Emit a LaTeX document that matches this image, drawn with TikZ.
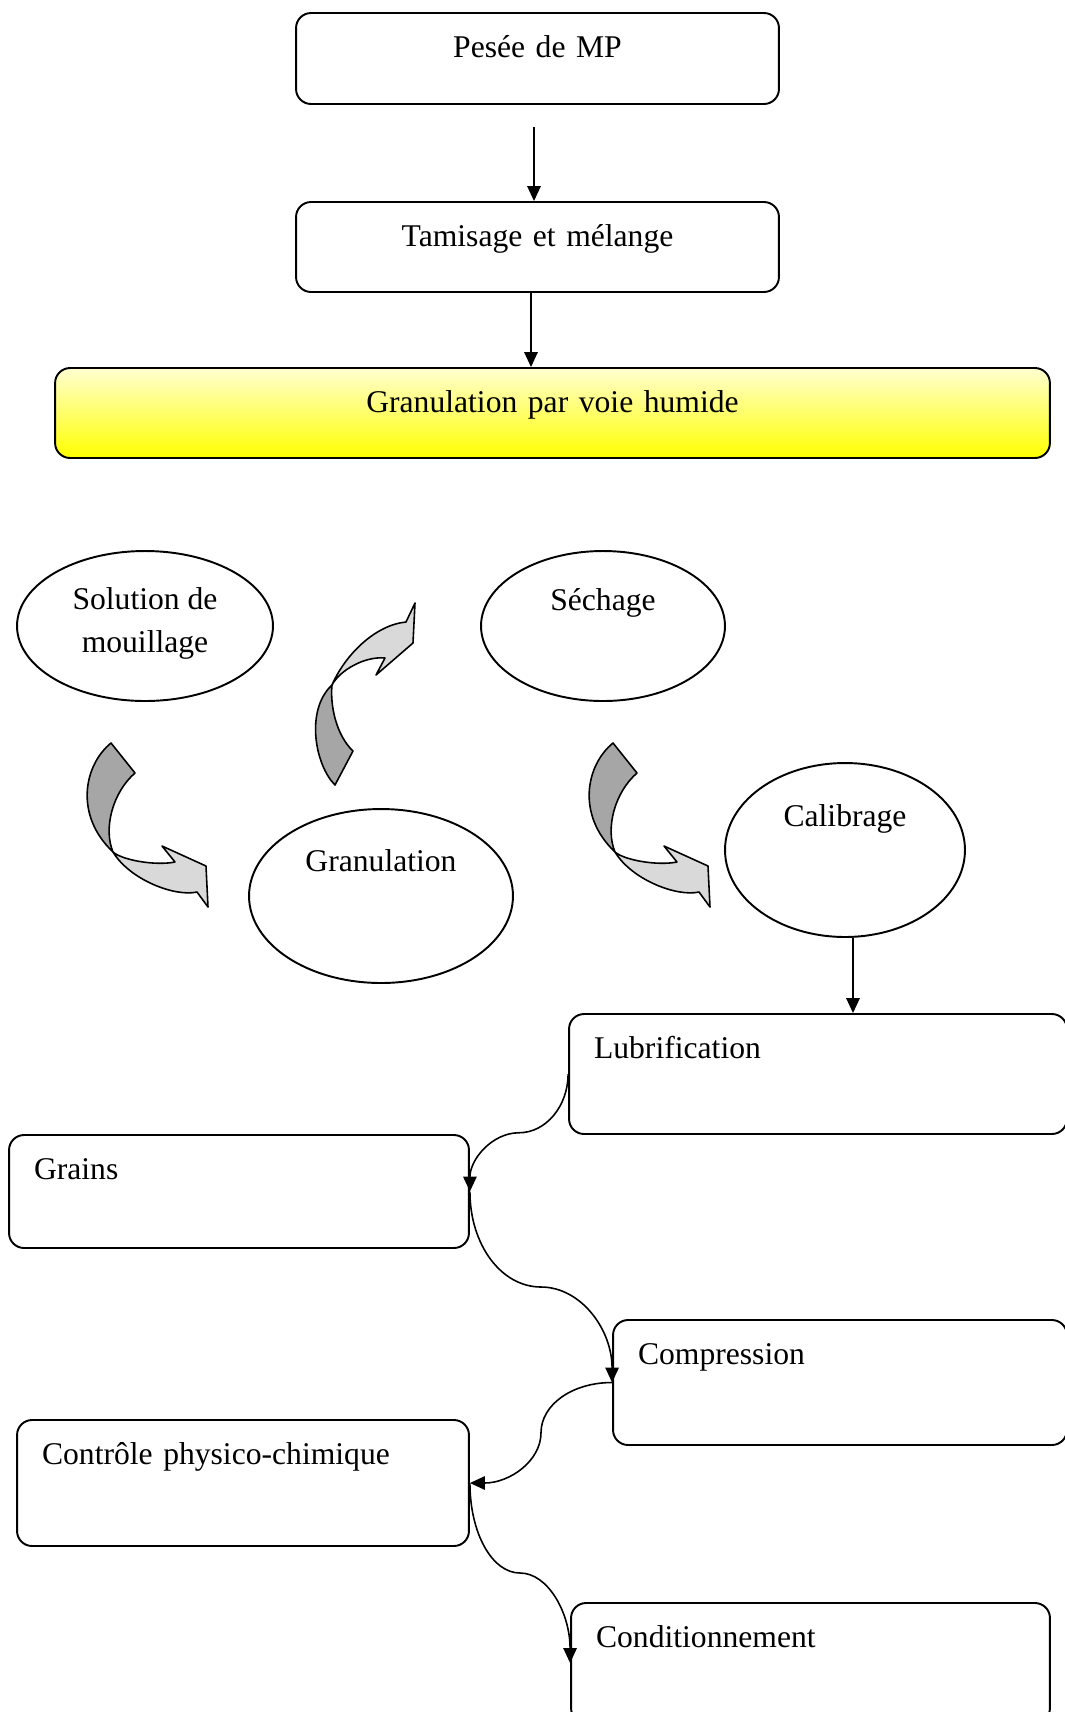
\documentclass[tikz,border=0pt]{standalone}
\usepackage{fontspec}
\setmainfont{Liberation Serif}
\usetikzlibrary{arrows.meta, shapes.geometric, calc}

\begin{document}
\begin{tikzpicture}[
  x=0.02cm, y=-0.02cm,
  % ---- styles ----
  stepbox/.style = {
    rectangle, draw=black, line width=1.1pt,
    rounded corners=0.3cm,
    font=\fontsize{18}{24}\selectfont,
    inner xsep=0.5cm, inner ysep=0pt,
    text height=0.88cm
  },
  topbox/.style = {stepbox, align=center},
  sidebox/.style = {stepbox, align=left},
  humide/.style = {topbox, top color=yellow!18, bottom color=yellow},
  phase/.style = {
    ellipse, draw=black, line width=1.1pt,
    font=\fontsize{18}{24}\selectfont,
    align=center, inner sep=0pt
  },
  flow/.style = {-{Triangle[length=0.3cm, width=0.27cm]}, line width=0.9pt},
  darkband/.style = {fill=black!35, draw=black, line width=0.9pt, line join=round},
  lightband/.style = {fill=black!15, draw=black, line width=0.9pt, line join=round}
]

\useasboundingbox (0,0) rectangle (1065,1712);

% ============ PROCESS BOXES ============

% --- pesee ---
\node[topbox, text width=8.66cm, text depth=0.94cm] (pesee) at (537.5, 58.5) {Pesée de MP};

% --- tamisage ---
\node[topbox, text width=8.66cm, text depth=0.92cm] (tamis) at (537.5, 247) {Tamisage et mélange};

% --- granulation par voie humide ---
\node[humide, text width=18.9cm, text depth=0.92cm] (humide) at (552.5, 413) {Granulation par voie humide};

% ============ WET GRANULATION CYCLE ============

\node[phase, minimum width=5.12cm, minimum height=3cm, text depth=0.24cm] (solution) at (145, 626) {Solution de\\mouillage};
\node[phase, minimum width=4.88cm, minimum height=3cm, text height=0.5cm, text depth=1.14cm] (sechage) at (603, 626) {Séchage};
\node[phase, minimum width=5.28cm, minimum height=3.48cm, text height=0.5cm, text depth=1.5cm] (granul) at (381, 896) {Granulation};
\node[phase, minimum width=4.8cm, minimum height=3.48cm, text height=0.5cm, text depth=1.46cm] (calib) at (845, 850) {Calibrage};

% curved block arrow under solution
\draw[darkband] (111,743) -- (135,773) .. controls (113,792) and (103,828) .. (113,852)
  .. controls (74,815) and (84,765) .. cycle;
\draw[lightband] (113,852) .. controls (122,860) and (155,866) .. (175,862)
  -- (162,846) -- (206,866) -- (208,907) -- (197,892)
  .. controls (175,897) and (130,880) .. cycle;

% curved block arrow towards sechage
\draw[darkband] (335,785) .. controls (315,765) and (305,710) .. (332,685)
  .. controls (330,705) and (336,735) .. (353,751) -- cycle;
\draw[lightband] (332,685) .. controls (345,655) and (375,625) .. (406,622)
  -- (415,603) -- (413,643) -- (376,675) -- (385,658)
  .. controls (365,656) and (340,670) .. cycle;

% curved block arrow under sechage
\begin{scope}[shift={(502,0)}]
\draw[darkband] (111,743) -- (135,773) .. controls (113,792) and (103,828) .. (113,852)
  .. controls (74,815) and (84,765) .. cycle;
\draw[lightband] (113,852) .. controls (122,860) and (155,866) .. (175,862)
  -- (162,846) -- (206,866) -- (208,907) -- (197,892)
  .. controls (175,897) and (130,880) .. cycle;
\end{scope}

% ============ AFTER GRANULATION ============

\node[sidebox, text width=8.96cm, text depth=1.52cm] (lubri) at (818, 1074) {Lubrification};
\node[sidebox, text width=8.2cm, text depth=1.38cm] (grains) at (239, 1191.5) {Grains};
\node[sidebox, text width=8.08cm, text depth=1.62cm] (compress) at (840, 1382.5) {Compression};
\node[sidebox, text width=8.04cm, text depth=1.64cm] (controle) at (243, 1483) {Contrôle physico-chimique};
\node[sidebox, text width=8.58cm, text depth=1.52cm] (condit) at (810.5, 1663) {Conditionnement};

% ============ CONNECTORS ============

\draw[flow] ([xshift=-0.07cm, yshift=-0.44cm]pesee.south) -- ([xshift=-0.07cm]tamis.north);
\draw[flow] ([xshift=-0.13cm]tamis.south) -- ([xshift=-0.13cm]tamis.south |- humide.north);
\draw[flow] ([xshift=0.16cm]calib.south) -- ([xshift=0.16cm]calib.south |- lubri.north);

% middle points of the s-bends
\coordinate (bend1) at ($(lubri.west)!0.5!(grains.east)$);
\coordinate (bend2) at ($(grains.east)!0.5!(compress.west)$);
\coordinate (bend3) at ($(compress.west)!0.5!(controle.east)$);
\coordinate (bend4) at ($(controle.east)!0.5!(condit.west)$);

\draw[flow] (lubri.west) .. controls +(0,32) and +(27,0) .. (bend1)
  .. controls +(-27,0) and +(0,-32) .. (grains.east);
\draw[flow] (grains.east) .. controls +(0,53) and +(-40,0) .. (bend2)
  .. controls +(40,0) and +(0,-53) .. (compress.west);
\draw[flow] (compress.west) .. controls +(-40,0) and +(0,-28) .. (bend3)
  .. controls +(0,28) and +(40,0) .. (controle.east);
\draw[flow] (controle.east) .. controls +(0,50) and +(-28,0) .. (bend4)
  .. controls +(28,0) and +(0,-50) .. (condit.west);

\end{tikzpicture}
\end{document}
